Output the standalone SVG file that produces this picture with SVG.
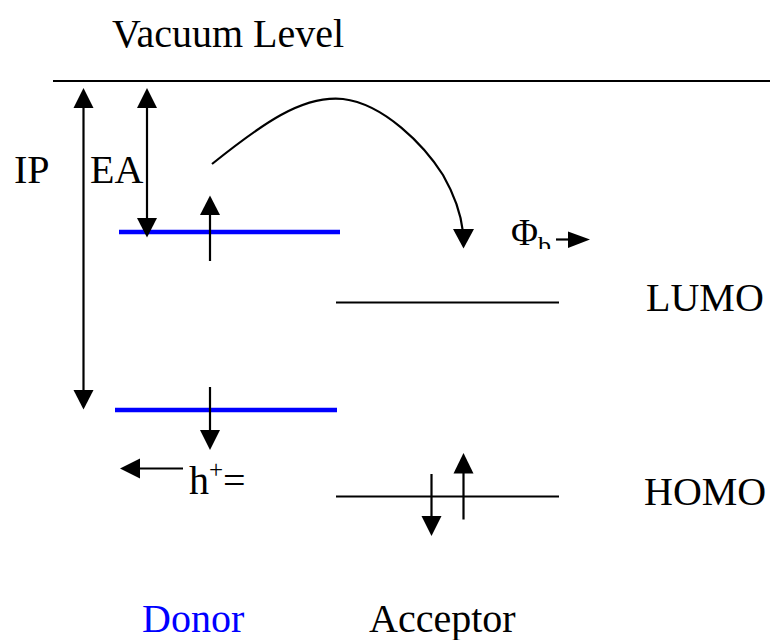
<svg xmlns="http://www.w3.org/2000/svg" width="770" height="640" viewBox="0 0 770 640">
<style>
.t{font-family:'Liberation Serif','Times New Roman',Times,'DejaVu Serif','Noto Serif',serif;font-size:40px;fill:#000}
.ln{stroke:#000;stroke-width:2.2;fill:none}
.blue{stroke:#0000FF;stroke-width:4.5;fill:none}
.ah{fill:#000}
</style>
<defs>
<clipPath id="phiClip"><rect x="500" y="200" width="80" height="49"/></clipPath>
</defs>
<rect width="770" height="640" fill="#fff"/>
<g id="vacuum">
<line class="ln" x1="53" y1="81" x2="770" y2="81"/>
<text class="t" x="112" y="47" font-family="Liberation Serif, serif">Vacuum Level</text>
</g>
<g id="donor-lumo">
<line class="blue" x1="119" y1="232" x2="340" y2="232"/>
</g>
<g id="donor-homo">
<line class="blue" x1="115" y1="410" x2="337" y2="410"/>
</g>
<g id="acceptor-lumo">
<line class="ln" x1="336" y1="302.5" x2="559" y2="302.5"/>
<text class="t" x="646" y="311" font-family="Liberation Serif, serif">LUMO</text>
</g>
<g id="acceptor-homo">
<line class="ln" x1="336" y1="496.5" x2="559" y2="496.5"/>
<text class="t" x="644" y="505" font-family="Liberation Serif, serif">HOMO</text>
</g>
<g id="labels" font-family="Liberation Serif, serif">
<text class="t" x="14" y="183">IP</text>
<text class="t" x="90" y="183">EA</text>
<text class="t" x="142" y="632" style="fill:#0000FF">Donor</text>
<text class="t" x="369" y="632">Acceptor</text>
<g clip-path="url(#phiClip)">
<text class="t" x="511" y="245" style="font-size:37px">Φ<tspan style="font-size:26px" dy="9">b</tspan></text>
</g>
<text class="t" x="189" y="494">h<tspan style="font-size:25px" dy="-16">+</tspan><tspan dy="16">=</tspan></text>
</g>
<g id="connectors">
<line class="ln" x1="83.5" y1="105" x2="83.5" y2="392"/>
<polygon class="ah" points="83.5,88 73.5,108 93.5,108"/>
<polygon class="ah" points="83.5,409.5 73.5,390 93.5,390"/>
<line class="ln" x1="147" y1="105" x2="147" y2="220"/>
<polygon class="ah" points="147,88 137,108 157,108"/>
<polygon class="ah" points="147,237.5 137,218 157,218"/>
<line class="ln" x1="210" y1="212" x2="210" y2="261"/>
<polygon class="ah" points="210,195.5 200,215 220,215"/>
<line class="ln" x1="210" y1="387" x2="210" y2="433"/>
<polygon class="ah" points="210,450 200,430 220,430"/>
<line class="ln" x1="137" y1="468.5" x2="183" y2="468.5"/>
<polygon class="ah" points="120,468.5 140,458.5 140,478.5"/>
<path class="ln" d="M212,164 C262,124 302,95 343,99 C384,104 424,145 443,175 C455,196 461,214 463,232"/>
<polygon class="ah" points="463.5,248.5 453,229 474,229"/>
<line class="ln" x1="556" y1="239.5" x2="572" y2="239.5"/>
<polygon class="ah" points="590,239.5 568,231.5 568,248"/>
<line class="ln" x1="431.5" y1="474" x2="431.5" y2="519"/>
<polygon class="ah" points="431.5,536 421.5,516 441.5,516"/>
<line class="ln" x1="463.5" y1="470" x2="463.5" y2="519.5"/>
<polygon class="ah" points="463.5,453 453.5,473.5 473.5,473.5"/>
</g>
</svg>
